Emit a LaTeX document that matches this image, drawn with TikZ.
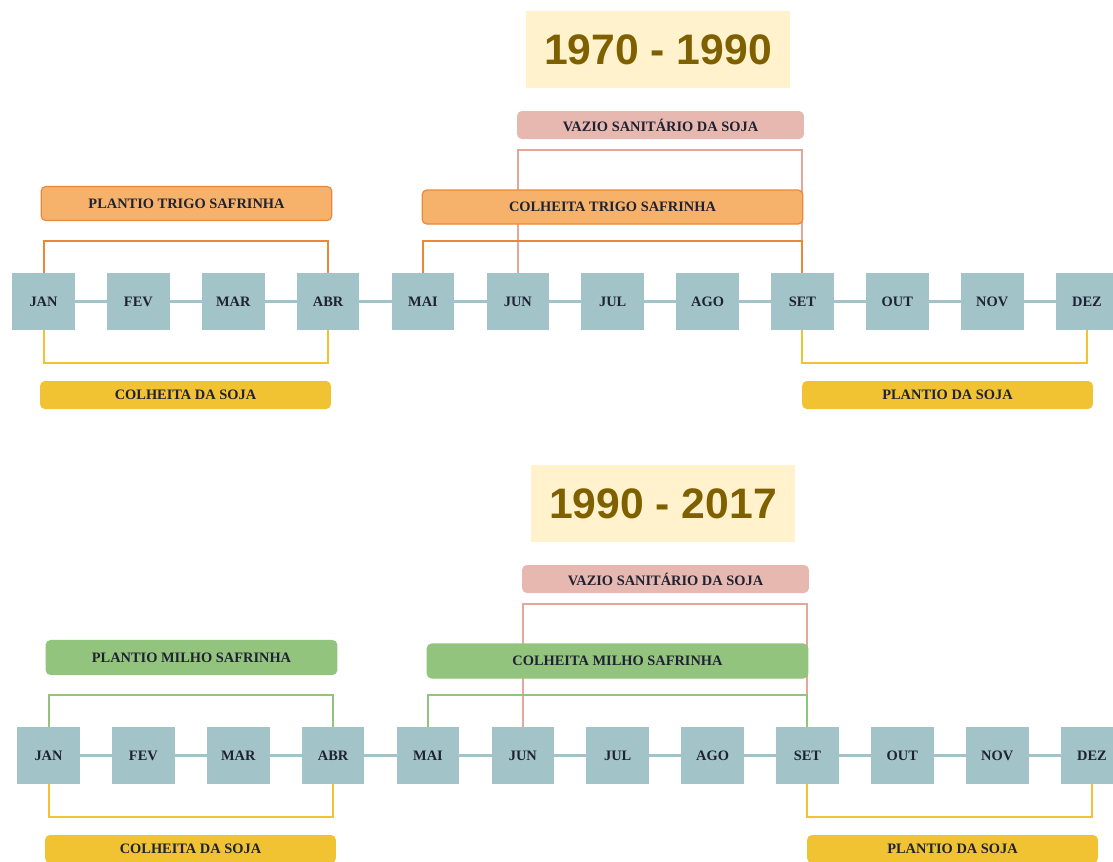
\documentclass[tikz,border=0pt]{standalone}
\usepackage{fontspec}
\setmainfont{Liberation Serif}
\newfontfamily\headfont{Liberation Sans}
\usepackage{tikz}
\usetikzlibrary{positioning}
\definecolor{ink}{HTML}{1F2233}
\definecolor{cyanbox}{HTML}{A2C4C9}
\definecolor{titlebg}{HTML}{FFF2CC}
\definecolor{titleink}{HTML}{7F6000}
\definecolor{trigo}{HTML}{F6B26B}
\definecolor{trigoedge}{HTML}{E8893A}
\definecolor{milho}{HTML}{93C47D}
\definecolor{soja}{HTML}{F1C232}
\definecolor{vazio}{HTML}{E6B8AF}
\definecolor{vazioedge}{HTML}{E5A69C}

\begin{document}
\begin{tikzpicture}[x=0.75pt,y=-0.75pt,
  month/.style={fill=cyanbox,minimum width=47pt,minimum height=43pt,inner sep=0pt,outer sep=0pt,
    font=\bfseries\fontsize{10.8}{12}\selectfont,text=ink},
  link/.style={cyanbox,line width=2pt},
  span/.style={line width=1.5pt},
  stage/.style={rounded corners=3.5pt,inner sep=0pt,text=ink,
    font=\bfseries\fontsize{10.8}{12}\selectfont},
  period/.style={fill=titlebg,text=titleink,minimum width=198pt,minimum height=58pt,
    font=\headfont\bfseries\fontsize{32}{36}\selectfont}]
  \useasboundingbox (0,0) rectangle (1113,861);
  \foreach \p/\per/\crop/\cf/\ce/\dx/\dy in {a/1970 - 1990/TRIGO/trigo/trigoedge/0/0,
      b/1990 - 2017/MILHO/milho/milho/5/454}{
  \begin{scope}[shift={(\dx,\dy)}]
    \node[period] (\p-title) at (658,49.5) {\per};
    % months
    \node[month] (\p1) at (43.5,301.5) {JAN};
    \foreach \m [count=\i from 2, remember=\i as \j (initially 1)] in {FEV,MAR,ABR,MAI,JUN,JUL,AGO,SET,OUT,NOV,DEZ}
      \node[month,right=24.15pt of \p\j] (\p\i) {\m};
    \foreach \i [count=\j from 2] in {1,...,11}
      \draw[link] (\p\i) -- (\p\j);
    % spans
    \draw[span,vazioedge] (\p6.north) -- ++(0,-123) -| (\p9.north);
    \draw[span,\ce] (\p1.north) -- ++(0,-32) -| (\p4.north);
    \draw[span,\ce] (\p5.north) -- ++(0,-32) -| (\p9.north);
    \draw[span,soja] (\p1.south) -- ++(0,33) -| (\p4.south);
    \draw[span,soja] (\p9.south) -- ++(0,33) -| (\p12.south);
    % stages
    \node[stage,fill=vazio,minimum width=215pt,minimum height=21pt] (\p-vazio) at (660.5,125) {VAZIO SANITÁRIO DA SOJA};
    \node[stage,fill=\cf,draw=\ce,line width=0.9pt,minimum width=218pt,minimum height=25.5pt] (\p-plant) at (186.5,203.5) {PLANTIO \crop\ SAFRINHA};
    \node[stage,fill=\cf,draw=\ce,line width=0.9pt,minimum width=285.5pt,minimum height=25.5pt] (\p-colh) at (612.5,207) {COLHEITA \crop\ SAFRINHA};
    \node[stage,fill=soja,minimum width=218pt,minimum height=21pt] (\p-colhsoja) at (185.5,395) {COLHEITA DA SOJA};
    \node[stage,fill=soja,minimum width=218pt,minimum height=21pt] (\p-plantsoja) at (947.5,395) {PLANTIO DA SOJA};
  \end{scope}}
\end{tikzpicture}
\end{document}
